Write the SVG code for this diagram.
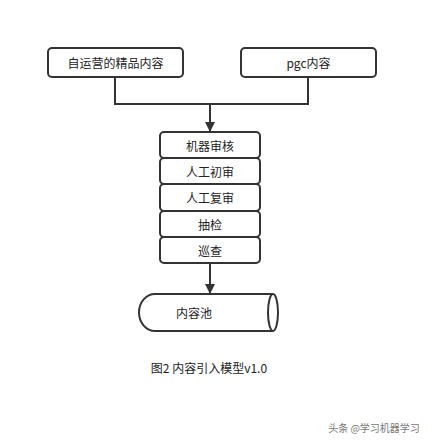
<svg xmlns="http://www.w3.org/2000/svg" width="436" height="443" viewBox="0 0 436 443">
<style>
.box{fill:#fff;stroke:#333;stroke-width:2}
.t{font-family:"Noto Sans CJK SC","Liberation Sans",sans-serif;font-size:12px;fill:#222;text-anchor:middle;dominant-baseline:central}
.ln{fill:none;stroke:#333;stroke-width:2}
</style>
<defs>
<marker id="arr" markerWidth="10" markerHeight="10" refX="9" refY="5" orient="auto" markerUnits="userSpaceOnUse">
<path d="M0,0 L10,5 L0,10 Z" fill="#333"/>
</marker>
</defs>
<rect width="436" height="443" fill="#fff"/>
<g id="connectors">
<path class="ln" d="M115,77 V104 H308 V77"/>
<path class="ln" d="M210,104 V131" marker-end="url(#arr)"/>
<path class="ln" d="M210,263 V293" marker-end="url(#arr)"/>
</g>
<g id="n1"><rect class="box" x="48" y="48" width="135" height="29" rx="4"/><text class="t" x="115.5" y="62.5">自运营的精品内容</text></g>
<g id="n2"><rect class="box" x="241" y="48" width="135" height="29" rx="4"/><text class="t" x="308.5" y="62.5">pgc内容</text></g>
<g id="n3"><rect class="box" x="160" y="132" width="100" height="26" rx="4"/><text class="t" x="210" y="145">机器审核</text></g>
<g id="n4"><rect class="box" x="160" y="158" width="100" height="26" rx="4"/><text class="t" x="210" y="171">人工初审</text></g>
<g id="n5"><rect class="box" x="160" y="184" width="100" height="27" rx="4"/><text class="t" x="210" y="197.5">人工复审</text></g>
<g id="n6"><rect class="box" x="160" y="211" width="100" height="26" rx="4"/><text class="t" x="210" y="224">抽检</text></g>
<g id="n7"><rect class="box" x="160" y="237" width="100" height="26" rx="4"/><text class="t" x="210" y="250">巡查</text></g>
<g id="n8">
<path class="box" d="M273,294 H155 A16,18.5 0 0 0 155,331 H273"/>
<ellipse class="box" cx="273" cy="312.5" rx="5" ry="18.5"/>
<text class="t" x="194" y="312.5">内容池</text>
</g>
<text class="t" x="209" y="367">图2 内容引入模型v1.0</text>
<text class="t" x="374" y="427" style="font-size:10px;fill:#777">头条 @学习机器学习</text>
</svg>
